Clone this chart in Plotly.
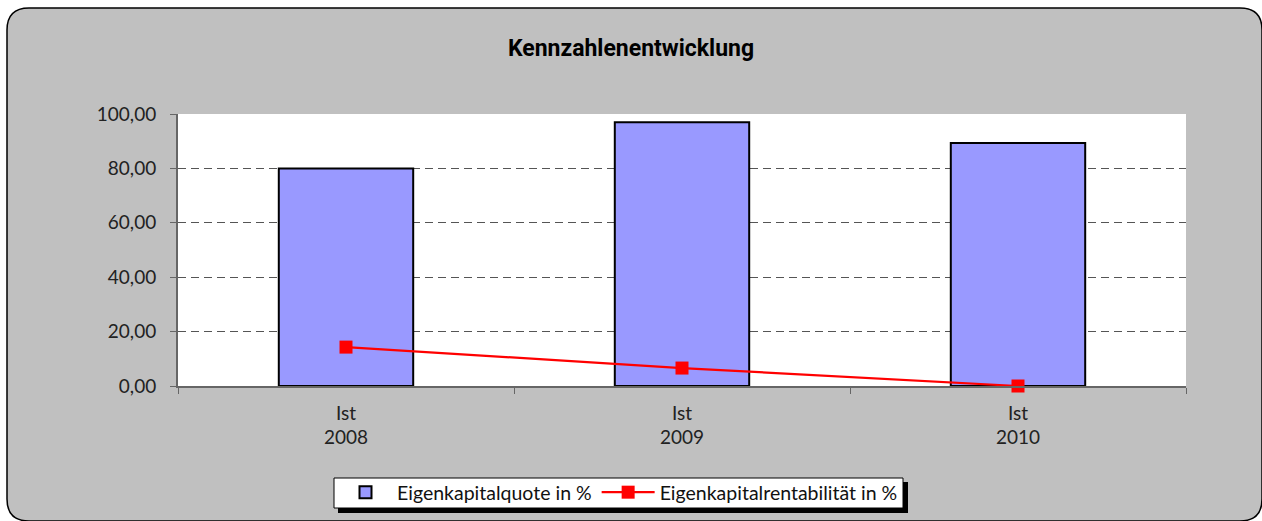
import plotly.graph_objects as go

categories = ["Ist<br>2008", "Ist<br>2009", "Ist<br>2010"]
eigenkapitalquote = [80.0, 97.0, 89.3]
eigenkapitalrentabilitaet = [14.3, 6.6, 0.0]
y_ticks = [0, 20, 40, 60, 80, 100]

W, H = 1262, 521
L, R, T, B = 178, 1186, 114, 386

def px(x):
    return (x - L) / (R - L)

def py(y):
    return (B - y) / (B - T)

fig = go.Figure()
fig.add_trace(go.Bar(
    x=categories, y=eigenkapitalquote, name="Eigenkapitalquote in %",
    marker=dict(color="#9999FF", line=dict(color="black", width=2)),
))
fig.add_trace(go.Scatter(
    x=categories, y=eigenkapitalrentabilitaet, name="Eigenkapitalrentabilität in %",
    mode="lines+markers", cliponaxis=False,
    line=dict(color="#FF0000", width=2.2),
    marker=dict(symbol="square", size=13, color="#FF0000"),
))

# rounded gray background
x0, x1, y0, y1, r = 7, 1262, 8, 521, 22
def P(x, y):
    return f"{px(x):.5f},{py(y):.5f}"
path = (f"M {P(x0 + r, y0)} L {P(x1 - r, y0)} Q {P(x1, y0)} {P(x1, y0 + r)} "
        f"L {P(x1, y1 - r)} Q {P(x1, y1)} {P(x1 - r, y1)} "
        f"L {P(x0 + r, y1)} Q {P(x0, y1)} {P(x0, y1 - r)} "
        f"L {P(x0, y0 + r)} Q {P(x0, y0)} {P(x0 + r, y0)} Z")
shapes = [
    dict(type="path", xref="paper", yref="paper", path=path,
         fillcolor="#C0C0C0", line=dict(color="black", width=1.5), layer="below"),
    dict(type="rect", xref="paper", yref="paper", x0=0, x1=1, y0=0, y1=1,
         fillcolor="white", line=dict(width=0), layer="below"),
    # legend shadow and box
    dict(type="rect", xref="paper", yref="paper",
         x0=px(338), x1=px(908), y0=py(513), y1=py(482),
         fillcolor="black", line=dict(width=0), layer="below"),
    dict(type="rect", xref="paper", yref="paper",
         x0=px(334), x1=px(903), y0=py(508), y1=py(478),
         fillcolor="white", line=dict(color="black", width=1), layer="below"),
]

fig.update_layout(
    width=W, height=H,
    margin=dict(l=L, r=W - R, t=T, b=H - B, autoexpand=False),
    paper_bgcolor="white",
    plot_bgcolor="rgba(0,0,0,0)",
    separators=",.",
    bargap=0.6,
    shapes=shapes,
    title=dict(text="<b>Kennzahlenentwicklung</b>", x=0.5, xref="container", xanchor="center",
               y=1 - 48 / H, yanchor="middle",
               font=dict(family="Roboto, sans-serif", size=23, color="black")),
    font=dict(family="Lato, Open Sans, sans-serif", size=19, color="#222"),
    legend=dict(orientation="h", x=px(334), xanchor="left", y=py(473), yanchor="top",
                bgcolor="rgba(0,0,0,0)", borderwidth=0,
                font=dict(size=19.5, color="#111"), itemwidth=53,
                traceorder="normal", tracegroupgap=0),
    xaxis=dict(type="category", showline=True, linecolor="#666", linewidth=1.5,
               ticks="outside", tickson="boundaries", ticklen=6, tickcolor="#666",
               ticklabelstandoff=9,
               showgrid=False, tickfont=dict(size=19, color="#222")),
    yaxis=dict(range=[0, 100], tickvals=y_ticks, tickformat=".2f",
               showline=True, linecolor="#666", linewidth=2,
               ticks="outside", ticklen=6, tickcolor="#666",
               ticklabelstandoff=10,
               showgrid=True, gridcolor="#555", griddash="8px,5px", gridwidth=1.2,
               zeroline=False, tickfont=dict(size=19, color="#222")),
)

fig.write_html("out.html", config={"displayModeBar": False},
               post_script="document.body.style.margin='0';document.body.style.overflow='hidden';")
